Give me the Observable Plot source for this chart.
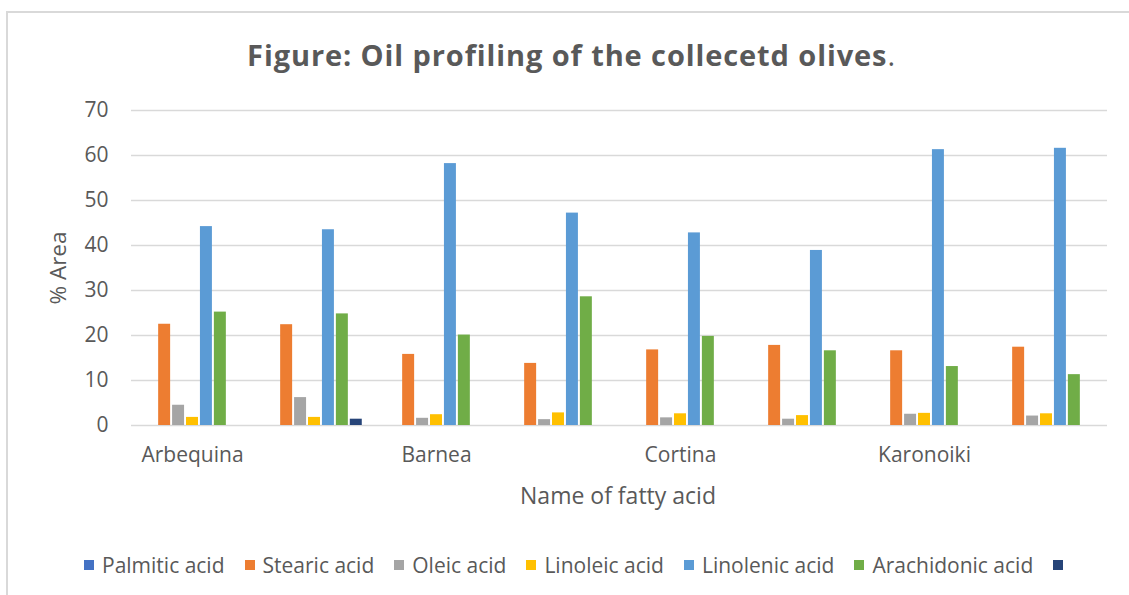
<!DOCTYPE html>
<html>
<head>
<meta charset="utf-8">
<script src="https://cdn.jsdelivr.net/npm/d3@7"></script>
<script src="https://cdn.jsdelivr.net/npm/@observablehq/plot@0.6"></script>
<style>
  html, body { margin: 0; padding: 0; background: #fff; overflow: hidden; }
  body { width: 1129px; height: 595px; position: relative; font-family: "Open Sans", sans-serif; color: #595959; }
  #frame { position: absolute; left: 6px; top: 11px; width: 1200px; height: 700px; border: 2px solid #d9d9d9; box-sizing: border-box; }
  #title { position: absolute; left: 7px; width: 1129px; top: 35px; text-align: center; font-size: 29px; letter-spacing: 0.9px; font-weight: bold; line-height: 40px; color: #595959; white-space: nowrap; }
  #title .dot { font-weight: normal; }
  #chart { position: absolute; left: 0; top: 95px; }
  #ytitle { position: absolute; left: 58px; top: 268px; transform: translate(-50%, -50%) rotate(-90deg); font-size: 22.5px; white-space: nowrap; line-height: 26px; }
  #xtitle { position: absolute; left: 618px; top: 495px; transform: translate(-50%, -50%); font-size: 23px; white-space: nowrap; line-height: 26px; }
  #legend { position: absolute; left: 84px; top: 552px; display: flex; align-items: center; font-size: 21px; line-height: 26px; white-space: nowrap; }
  #legend .item { display: flex; align-items: center; margin-right: 20px; }
  #legend .sw { width: 10px; height: 10px; margin-right: 8px; }
</style>
</head>
<body>
<div id="frame"></div>
<div id="title">Figure: Oil profiling of the collecetd olives<span class="dot">.</span></div>
<div id="chart"></div>
<div id="ytitle">% Area</div>
<div id="xtitle">Name of fatty acid</div>
<div id="legend"></div>
<script>
// ---- data ----
const categories = ["Arbequina", "Arbequina (2)", "Barnea", "Barnea (2)", "Cortina", "Cortina (2)", "Karonoiki", "Karonoiki (2)"];
const tickLabels = ["Arbequina", "Barnea", "Cortina", "Karonoiki"];
const seriesNames = ["Palmitic acid", "Stearic acid", "Oleic acid", "Linoleic acid", "Linolenic acid", "Arachidonic acid", ""];
const seriesColors = ["#4472C4", "#ED7D31", "#A5A5A5", "#FFC000", "#5B9BD5", "#70AD47", "#264478"];
const palmitic    = [0, 0, 0, 0, 0, 0, 0, 0];
const stearic     = [22.5, 22.4, 15.8, 13.8, 16.8, 17.8, 16.6, 17.4];
const oleic       = [4.5, 6.2, 1.6, 1.3, 1.7, 1.4, 2.5, 2.1];
const linoleic    = [1.8, 1.8, 2.4, 2.8, 2.6, 2.2, 2.7, 2.6];
const linolenic   = [44.2, 43.5, 58.2, 47.2, 42.8, 38.9, 61.3, 61.6];
const arachidonic = [25.2, 24.8, 20.1, 28.6, 19.8, 16.6, 13.1, 11.3];
const series7     = [0, 1.4, 0, 0, 0, 0, 0, 0];
const yTicks = [0, 10, 20, 30, 40, 50, 60, 70];

const seriesValues = [palmitic, stearic, oleic, linoleic, linolenic, arachidonic, series7];
const data = [];
categories.forEach((c, i) => {
  seriesNames.forEach((s, j) => {
    data.push({category: c, series: s, value: seriesValues[j][i]});
  });
});

const chart = Plot.plot({
  width: 1129,
  height: 375,
  marginTop: 15,
  marginBottom: 45,
  marginLeft: 127,
  marginRight: 19,
  style: {fontFamily: "Open Sans", fontSize: "21px", color: "#595959", background: "transparent", overflow: "visible"},
  fx: {domain: categories, paddingInner: 0, paddingOuter: 0, label: null, axis: "bottom",
       tickSize: 0, tickPadding: 22, tickFormat: d => tickLabels.includes(d) ? d : ""},
  x: {domain: seriesNames, paddingInner: 0.14, paddingOuter: 0.95, round: false, axis: null},
  y: {domain: [0, 70], label: null, axis: null},
  color: {domain: seriesNames, range: seriesColors},
  marks: [
    Plot.ruleY(yTicks, {stroke: "#d9d9d9", strokeWidth: 1.5}),
    Plot.barY(data, {fx: "category", x: "series", y: "value", fill: "series"}),
    Plot.axisY(yTicks, {tickSize: 0, tickPadding: 23, label: null, fill: "#595959"})
  ]
});
document.getElementById("chart").appendChild(chart);

// legend
const legend = document.getElementById("legend");
seriesNames.forEach((s, j) => {
  const item = document.createElement("div");
  item.className = "item";
  const sw = document.createElement("div");
  sw.className = "sw";
  sw.style.background = seriesColors[j];
  item.appendChild(sw);
  if (s) {
    const t = document.createElement("span");
    t.textContent = s;
    item.appendChild(t);
  }
  legend.appendChild(item);
});
</script>
</body>
</html>
